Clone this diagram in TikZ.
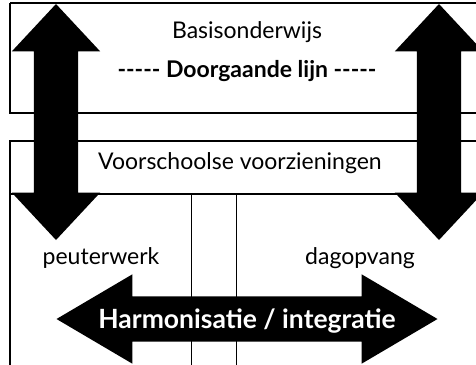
\documentclass[tikz,border=0pt]{standalone}
\usepackage{fontspec}
\setmainfont{Lato}
\usetikzlibrary{shapes.arrows}

\tikzset{
  blockarrow/.style={double arrow, fill=black, draw=none, inner xsep=0pt,
    double arrow head extend=22pt},
  tekst/.style={font=\fontsize{23}{26}\selectfont},
  boxline/.style={line width=1.2pt}
}

\begin{document}
\begin{tikzpicture}[x=1pt,y=-1pt]
  \useasboundingbox (0,0) rectangle (476,364);
  % boxes
  \draw[boxline] (10,3) -- (490,3) (10,3) -- (10,113) -- (490,113);
  \draw[boxline] (10,380) -- (10,141) -- (490,141);
  \draw[boxline] (10,194) -- (490,194);
  \draw[line width=1pt] (191,194) -- (191,380) (236,194) -- (236,380);
  % texts
  \node[tekst] (basis) at (247,32) {Basisonderwijs};
  \node[tekst] (lijn) at (247,71) {\textbf{-{}-{}-{}-{}- Doorgaande lijn -{}-{}-{}-{}-}};
  \node[tekst] (voor) at (240,163) {Voorschoolse voorzieningen};
  \node[tekst] (peuter) at (101,258) {peuterwerk};
  \node[tekst] (dag) at (360,258) {dagopvang};
  % arrows
  \node[blockarrow, rotate=90, inner ysep=22pt, minimum height=236pt, double arrow tip angle=86] (links) at (56,122) {};
  \node[blockarrow, rotate=90, inner ysep=22pt, minimum height=236pt, double arrow tip angle=86] (rechts) at (439,122) {};
  \node[blockarrow, minimum height=381pt, double arrow tip angle=61, inner ysep=13.5pt,
    text height=18pt, text depth=0pt, text=white,
    font=\fontsize{26.5}{30}\selectfont\bfseries] (harm) at (247,319) {Harmonisatie / integratie};
\end{tikzpicture}
\end{document}
